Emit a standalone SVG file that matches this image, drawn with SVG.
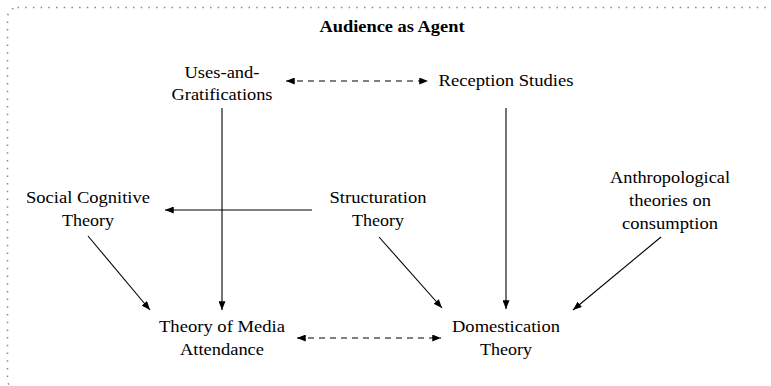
<svg xmlns="http://www.w3.org/2000/svg" width="771" height="386" viewBox="0 0 771 386">
<style>
.lbl{font-family:'Liberation Serif','DejaVu Serif',serif;font-size:17px;fill:#000;text-anchor:middle}
.title{font-weight:bold;font-size:16.5px}
.edge{stroke:#000;stroke-width:1.1;fill:none;marker-end:url(#ah)}
.dash{stroke-dasharray:6 5;marker-start:url(#ah)}
.frame{fill:none;stroke:#888;stroke-width:1.5;stroke-dasharray:1.5 6.2}
</style>
<defs>
<marker id="ah" viewBox="0 0 10 8" refX="10" refY="4" markerWidth="9" markerHeight="7" markerUnits="userSpaceOnUse" orient="auto-start-reverse">
<path d="M0,0 L10,4 L0,8 Z" fill="#000"/>
</marker>
</defs>
<rect class="frame" x="7.5" y="7.5" width="800" height="382" rx="10" ry="10"/>
<g id="title"><text class="lbl title" x="392" y="32" textLength="145" lengthAdjust="spacingAndGlyphs">Audience as Agent</text></g>
<g id="uses"><text class="lbl" x="222" y="78" textLength="75" lengthAdjust="spacingAndGlyphs">Uses-and-</text><text class="lbl" x="222" y="100" textLength="101" lengthAdjust="spacingAndGlyphs">Gratifications</text></g>
<g id="reception"><text class="lbl" x="506" y="86" textLength="135" lengthAdjust="spacingAndGlyphs">Reception Studies</text></g>
<g id="social"><text class="lbl" x="88" y="203" textLength="124" lengthAdjust="spacingAndGlyphs">Social Cognitive</text><text class="lbl" x="88" y="226" textLength="52" lengthAdjust="spacingAndGlyphs">Theory</text></g>
<g id="structuration"><text class="lbl" x="378" y="203" textLength="97" lengthAdjust="spacingAndGlyphs">Structuration</text><text class="lbl" x="378" y="226" textLength="52" lengthAdjust="spacingAndGlyphs">Theory</text></g>
<g id="anthro"><text class="lbl" x="670" y="183" textLength="120" lengthAdjust="spacingAndGlyphs">Anthropological</text><text class="lbl" x="670" y="206" textLength="82" lengthAdjust="spacingAndGlyphs">theories on</text><text class="lbl" x="670" y="229" textLength="96" lengthAdjust="spacingAndGlyphs">consumption</text></g>
<g id="tma"><text class="lbl" x="222" y="332" textLength="126" lengthAdjust="spacingAndGlyphs">Theory of Media</text><text class="lbl" x="222" y="355" textLength="84" lengthAdjust="spacingAndGlyphs">Attendance</text></g>
<g id="domestication"><text class="lbl" x="506" y="332" textLength="108" lengthAdjust="spacingAndGlyphs">Domestication</text><text class="lbl" x="506" y="355" textLength="52" lengthAdjust="spacingAndGlyphs">Theory</text></g>
<g id="connectors">
<line class="edge dash" x1="286" y1="81" x2="428" y2="81"/>
<line class="edge" x1="222" y1="108" x2="222" y2="310"/>
<line class="edge" x1="506" y1="108" x2="506" y2="309"/>
<line class="edge" x1="312" y1="210" x2="165" y2="210"/>
<line class="edge" x1="88" y1="236" x2="150" y2="310"/>
<line class="edge" x1="379" y1="237" x2="442" y2="308"/>
<line class="edge" x1="661" y1="237" x2="573" y2="310"/>
<line class="edge dash" x1="297" y1="338" x2="441" y2="338"/>
</g>
</svg>
